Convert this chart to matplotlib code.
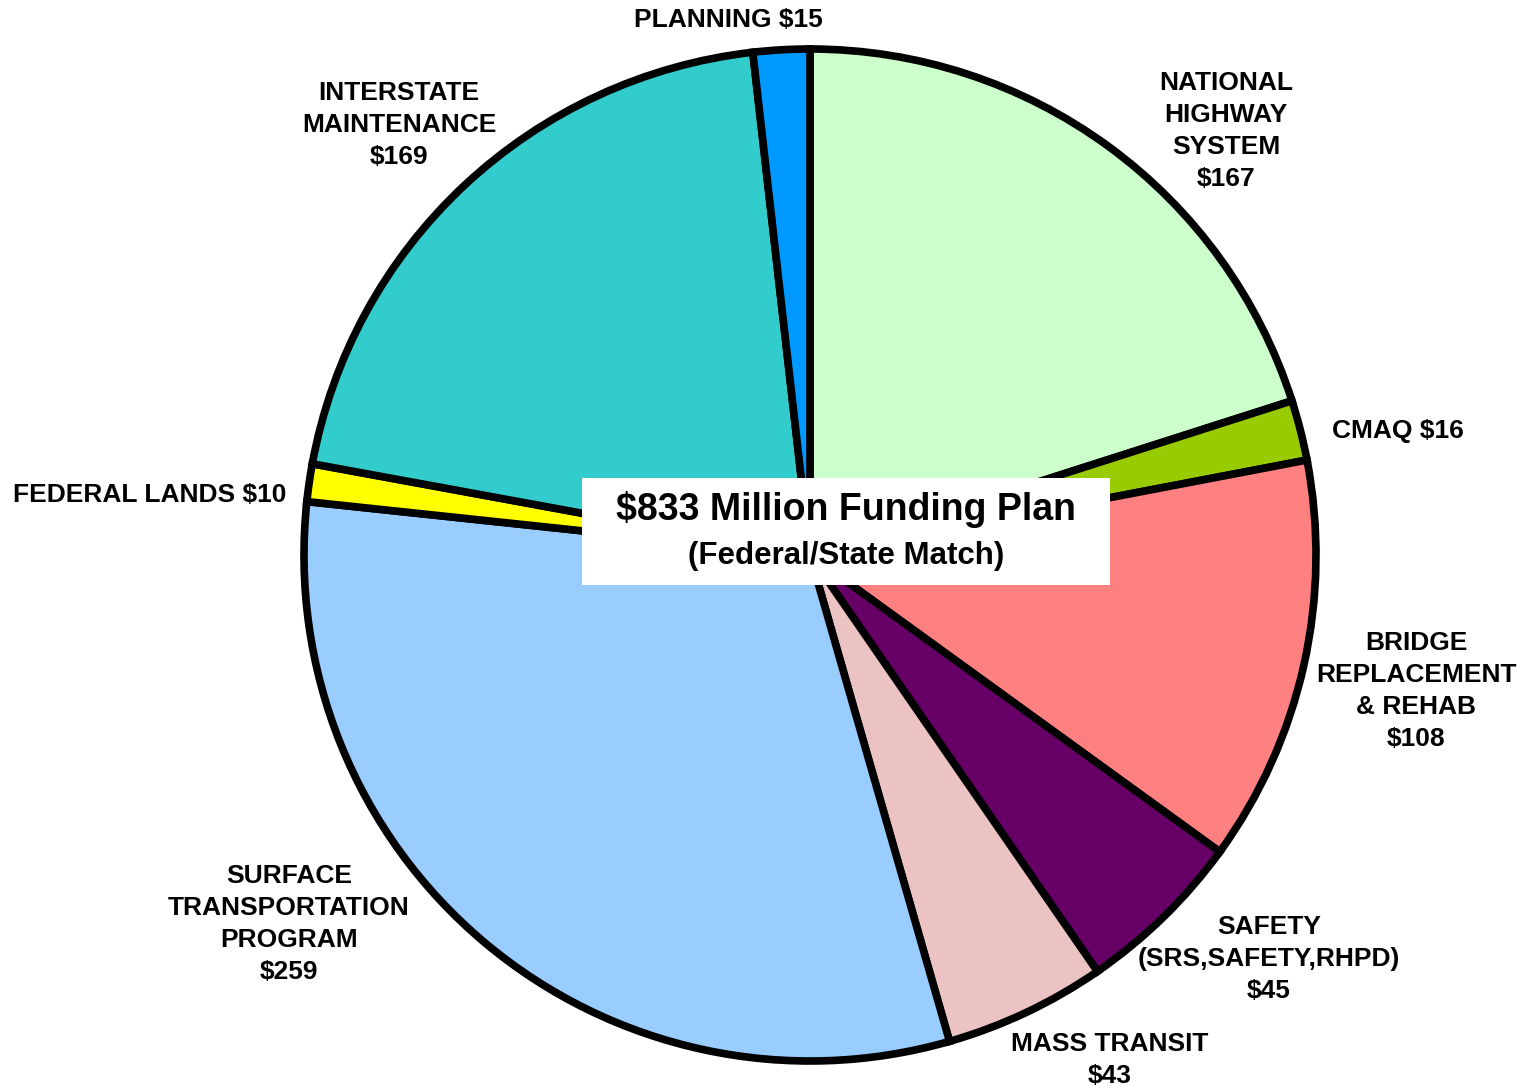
import matplotlib.pyplot as plt

plt.rcParams['font.family'] = ['Liberation Sans', 'DejaVu Sans']
plt.rcParams['font.weight'] = 'bold'

# funding by program, millions of dollars, clockwise from the top
programs = ["NATIONAL HIGHWAY SYSTEM", "CMAQ", "BRIDGE REPLACEMENT & REHAB",
            "SAFETY", "MASS TRANSIT", "SURFACE TRANSPORTATION PROGRAM",
            "FEDERAL LANDS", "INTERSTATE MAINTENANCE", "PLANNING"]
amounts = [167, 16, 108, 45, 43, 259, 10, 169, 15]
colors = ["#CCFFCC", "#99CC00", "#FF8080", "#660066", "#EBC3C3",
          "#99CCFF", "#FFFF00", "#33CCCC", "#0099FF"]

label_text = [
    "NATIONAL\nHIGHWAY\nSYSTEM\n$167",
    "CMAQ $16",
    "BRIDGE\nREPLACEMENT\n& REHAB\n$108",
    "SAFETY\n(SRS,SAFETY,RHPD)\n$45",
    "MASS TRANSIT\n$43",
    "SURFACE\nTRANSPORTATION\nPROGRAM\n$259",
    "FEDERAL LANDS $10",
    "INTERSTATE\nMAINTENANCE\n$169",
    "PLANNING $15",
]
# label centres in pixel space (x from left, y from top)
label_pos = [(1226, 131), (1398, 431), (1416, 691), (1269, 959), (1110, 1060),
             (289, 924), (150, 495), (399, 125), (728, 20)]

W, H = 1524, 1089
fig = plt.figure(figsize=(W / 100, H / 100), dpi=100)
ax = fig.add_axes([0, 0, 1, 1])
ax.axis('off')

ax.pie(amounts, colors=colors, startangle=90, counterclock=False,
       center=(810, H - 555), radius=506,
       wedgeprops=dict(edgecolor='black', linewidth=5.5, joinstyle='miter'))
ax.set_xlim(0, W)
ax.set_ylim(0, H)
ax.set_aspect('equal')

for txt, (x, y) in zip(label_text, label_pos):
    ax.text(x, H - y, txt, ha='center', va='center', fontsize=19,
            fontweight='bold', linespacing=1.42)

# title box in the middle of the pie
ax.add_patch(plt.Rectangle((582, H - 585), 528, 107, facecolor='white',
                           edgecolor='none', zorder=5))
ax.text(846, H - 510, "$833 Million Funding Plan", ha='center', va='center',
        fontsize=27, fontweight='bold', zorder=6)
ax.text(846, H - 556, "(Federal/State Match)", ha='center', va='center',
        fontsize=22.5, fontweight='bold', zorder=6)

fig.savefig("out.png", dpi=100)
